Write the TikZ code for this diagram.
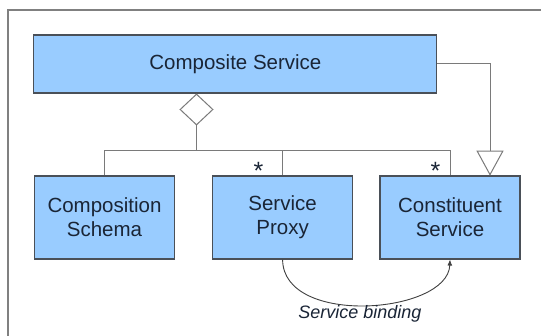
\documentclass[tikz,border=0pt]{standalone}
\usepackage{fontspec}
\setmainfont{Liberation Sans}
\usetikzlibrary{shapes.geometric,arrows.meta}
\definecolor{boxfill}{HTML}{99CCFF}
\definecolor{boxline}{HTML}{4A5058}
\definecolor{conn}{HTML}{7A7A7A}
\definecolor{txt}{HTML}{1A2536}
\definecolor{frame}{HTML}{808080}
\tikzset{
  cls/.style={draw=boxline, line width=1.1pt, fill=boxfill, text=txt,
    font=\fontsize{20.5}{24}\selectfont, align=center, inner sep=0pt,
    minimum height=83pt},
  conline/.style={draw=conn, line width=1pt},
  mult/.style={text=txt, font=\fontsize{25}{28}\selectfont, inner sep=0pt, anchor=base},
}
\begin{document}
\begin{tikzpicture}[x=1pt,y=-1pt]
\useasboundingbox (0,0) rectangle (541,336);
\fill[white] (0,0) rectangle (541,336);
\draw[frame, line width=1.5pt] (8,10) rectangle (560,360);
\node[cls, minimum width=403pt, minimum height=58pt] (comp) at (235.4,64) {Composite Service};
\node[cls, minimum width=140pt] (cs) at (104.5,217.5) {Composition\\Schema};
\node[cls, minimum width=140pt] (sp) at (282.6,217.5) {Service\\Proxy};
\node[cls, minimum width=140pt] (con) at (450,217.5) {Constituent\\Service};
\node[diamond, draw=conn, line width=1pt, fill=white, minimum width=33pt, minimum height=31pt, inner sep=0pt, anchor=north] (agg) at (196.5,93.5) {};
\coordinate (j) at (196.5,150.7);
\coordinate (gtip) at (490,175.7);
\draw[conline] (agg.south) -- (j);
\draw[conline] (cs.north) -- (cs.north |- j) -- (con.north |- j) -- (con.north);
\draw[conline] (sp.north) -- (sp.north |- j);
\draw[conline, -{Triangle[open,length=25pt,width=27pt]}] (comp.east) -| (gtip);
\node[mult] (m1) at (258.5,179.5) {*};
\node[mult] (m2) at (435.5,179.5) {*};
\draw[draw=black!75, line width=0.9pt, -{Latex[length=6pt,width=5pt]}] (sp.south) .. controls (283,327) and (448,314) .. (con.south);
\node[text=txt, font=\fontsize{18}{20}\selectfont\itshape, inner sep=0pt] (lbl) at (360,313.5) {Service binding};
\end{tikzpicture}
\end{document}
